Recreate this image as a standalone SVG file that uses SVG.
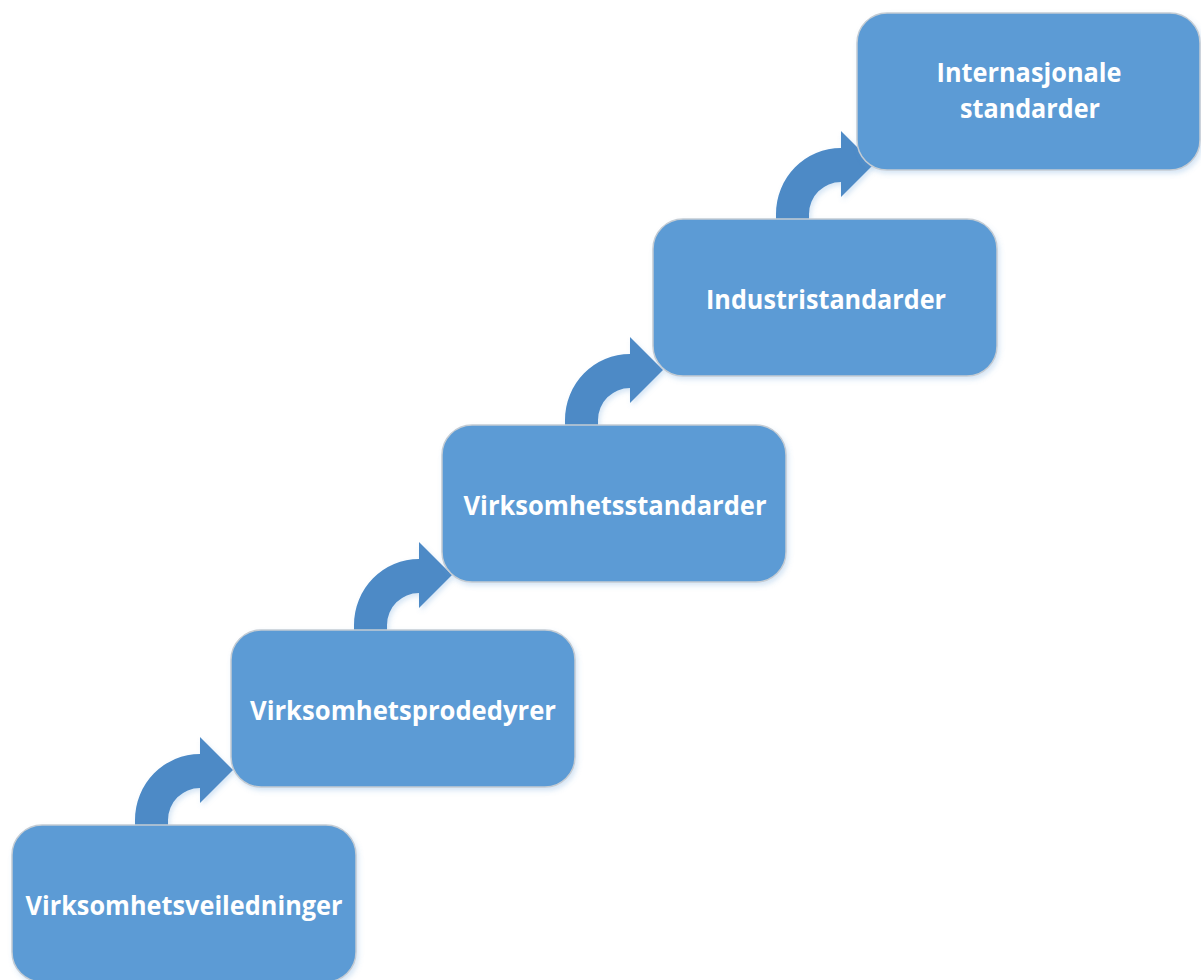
<svg xmlns="http://www.w3.org/2000/svg" width="1201" height="980" viewBox="0 0 1201 980">
  <style>
    .box { fill: #5b9bd5; stroke: #c4ccd4; stroke-width: 1.5; filter: url(#soft); }
    .step { fill: #4e8ac6; filter: url(#soft); }
    .label { font-family: "Open Sans", "Liberation Sans", sans-serif; font-weight: 700; font-size: 27px; fill: #ffffff; text-anchor: middle; }
  </style>
  <defs>
    <filter id="soft" x="-10%" y="-10%" width="125%" height="130%">
      <feDropShadow dx="2" dy="3" stdDeviation="2.5" flood-color="#5b9bd5" flood-opacity="0.25"/>
    </filter>
    <!-- bent-up arrow, origin at the top edge of the lower box -->
    <path id="bend" d="M 123 0 L 123 -5 A 65 66 0 0 1 188 -71 L 188 -88 L 221 -55 L 188 -22 L 188 -37 A 32 32 0 0 0 156 -5 L 156 0 Z"/>
  </defs>
  <rect width="1201" height="980" fill="#ffffff"/>

  <g id="connectors">
    <use href="#bend" class="step" transform="translate(12,825)"/>
    <use href="#bend" class="step" transform="translate(231,630)"/>
    <use href="#bend" class="step" transform="translate(442,425)"/>
    <use href="#bend" class="step" transform="translate(653,219)"/>
  </g>

  <g id="node-veiledninger">
    <rect class="box" x="12" y="825" width="344" height="157" rx="30"/>
    <text class="label" x="184" y="915" textLength="317" lengthAdjust="spacingAndGlyphs">Virksomhetsveiledninger</text>
  </g>
  <g id="node-prosedyrer">
    <rect class="box" x="231" y="630" width="344" height="157" rx="30"/>
    <text class="label" x="403" y="720" textLength="306" lengthAdjust="spacingAndGlyphs">Virksomhetsprodedyrer</text>
  </g>
  <g id="node-virksomhetsstandarder">
    <rect class="box" x="442" y="425" width="344" height="157" rx="30"/>
    <text class="label" x="615" y="515" textLength="303" lengthAdjust="spacingAndGlyphs">Virksomhetsstandarder</text>
  </g>
  <g id="node-industristandarder">
    <rect class="box" x="653" y="219" width="344" height="157" rx="30"/>
    <text class="label" x="826" y="309" textLength="240" lengthAdjust="spacingAndGlyphs">Industristandarder</text>
  </g>
  <g id="node-internasjonale">
    <rect class="box" x="857" y="13" width="343" height="157" rx="30"/>
    <text class="label" x="1029" y="82" textLength="185" lengthAdjust="spacingAndGlyphs">Internasjonale</text>
    <text class="label" x="1030" y="118" textLength="140" lengthAdjust="spacingAndGlyphs">standarder</text>
  </g>
</svg>
